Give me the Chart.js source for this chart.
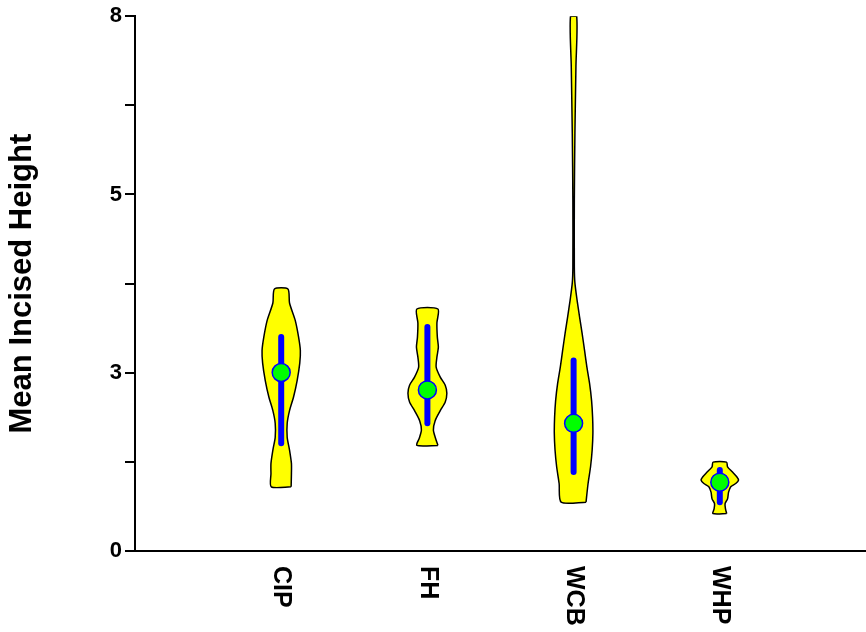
<!DOCTYPE html>
<html>
<head>
<meta charset="utf-8">
<title>Mean Incised Height</title>
<script src="https://cdn.jsdelivr.net/npm/chart.js@4/dist/chart.umd.min.js"></script>
<style>
  html, body { margin: 0; padding: 0; background: #fff; }
  #wrap { width: 866px; height: 632px; }
</style>
</head>
<body>
<div id="wrap"><canvas id="violin" width="866" height="632"></canvas></div>
<script>
// groups, in axis order (x = 1..4)
const categories = ['CIP', 'FH', 'WCB', 'WHP'];

// median (green dot) and the blue interquartile bar
const medians = [2.67, 2.41, 1.91, 1.03];
const q1 = [1.61, 1.91, 1.18, 0.73];
const q3 = [3.20, 3.35, 2.85, 1.21];

// violin outlines: heights from bottom to top, half width (in category units) at each height
const cipLevels = [0.96, 1.16, 1.31, 1.51, 1.70, 1.91, 2.10, 2.30, 2.55, 2.81, 3.00, 3.20, 3.45, 3.71, 3.92];
const cipWidths = [0.068, 0.070, 0.070, 0.057, 0.041, 0.041, 0.057, 0.084, 0.109, 0.127, 0.131, 0.119, 0.096, 0.057, 0.046];

const fhLevels = [1.58, 1.69, 1.81, 1.95, 2.10, 2.23, 2.36, 2.48, 2.60, 2.75, 2.90, 3.05, 3.20, 3.41, 3.62];
const fhWidths = [0.072, 0.055, 0.041, 0.053, 0.088, 0.122, 0.133, 0.122, 0.088, 0.060, 0.065, 0.075, 0.068, 0.065, 0.072];

const wcbLevels = [0.73, 1.01, 1.26, 1.51, 1.76, 2.00, 2.25, 2.51, 2.75, 3.00, 3.26, 3.50, 3.75, 4.01, 4.25, 5.25, 6.25, 7.25, 8.00];
const wcbWidths = [0.085, 0.099, 0.116, 0.127, 0.132, 0.130, 0.123, 0.109, 0.091, 0.075, 0.058, 0.041, 0.024, 0.009, 0.005, 0.005, 0.009, 0.016, 0.021];

const whpLevels = [0.56, 0.63, 0.71, 0.78, 0.88, 0.96, 1.01, 1.06, 1.11, 1.18, 1.26, 1.33];
const whpWidths = [0.047, 0.039, 0.036, 0.053, 0.060, 0.075, 0.109, 0.128, 0.116, 0.087, 0.053, 0.046];

// y axis: a tick every 8/3 units, only every other one labelled (rounded)
const yTickValues = [0, 4 / 3, 8 / 3, 4, 16 / 3, 20 / 3, 8];
const yTickLabels = ['0', '', '3', '', '5', '', '8'];

const profiles = [
    [cipLevels, cipWidths],
    [fhLevels, fhWidths],
    [wcbLevels, wcbWidths],
    [whpLevels, whpWidths]
];

const FONT = '"Liberation Sans", Arial, Helvetica, sans-serif';

// closed outline: up the right side, down the left side, back to start
function violinPoints(center, levels, widths) {
    const right = levels.map((y, i) => ({ x: center + widths[i], y }));
    const left = levels.map((y, i) => ({ x: center - widths[i], y })).reverse();
    return [...right, ...left, right[0]];
}

const datasets = [];

profiles.forEach(([levels, widths], i) => {
    datasets.push({
        type: 'line',
        label: categories[i],
        data: violinPoints(i + 1, levels, widths),
        borderColor: '#000000',
        borderWidth: 1.5,
        backgroundColor: '#ffff00',
        fill: 'shape',
        tension: 0.25,
        pointRadius: 0,
        order: 3
    });
});

categories.forEach((name, i) => {
    datasets.push({
        type: 'line',
        label: name + ' IQR',
        data: [{ x: i + 1, y: q1[i] }, { x: i + 1, y: q3[i] }],
        borderColor: '#0000ff',
        borderWidth: 6,
        borderCapStyle: 'round',
        pointRadius: 0,
        fill: false,
        order: 2
    });
});

datasets.push({
    type: 'scatter',
    label: 'Median',
    data: medians.map((m, i) => ({ x: i + 1, y: m })),
    pointRadius: 9,
    backgroundColor: '#00ff00',
    borderColor: '#0000ff',
    borderWidth: 1.5,
    order: 1
});

// category names, rotated to read top to bottom
const xLabelPlugin = {
    id: 'xLabels',
    afterDraw(chart) {
        const { ctx, scales: { x, y } } = chart;
        ctx.save();
        ctx.font = 'bold 25px ' + FONT;
        ctx.fillStyle = '#000000';
        ctx.textAlign = 'left';
        ctx.textBaseline = 'middle';
        categories.forEach((name, i) => {
            ctx.save();
            ctx.translate(x.getPixelForValue(i + 1), y.bottom + 15);
            ctx.rotate(Math.PI / 2);
            ctx.fillText(name, 0, 0);
            ctx.restore();
        });
        ctx.restore();
    }
};

new Chart(document.getElementById('violin').getContext('2d'), {
    type: 'scatter',
    data: { datasets },
    plugins: [xLabelPlugin],
    options: {
        responsive: false,
        animation: false,
        devicePixelRatio: 1,
        layout: { autoPadding: false, padding: { top: 16, right: 0, bottom: 0, left: 0 } },
        plugins: {
            legend: { display: false },
            tooltip: { enabled: false }
        },
        scales: {
            x: {
                type: 'linear',
                min: 0,
                max: 5,
                grid: { display: false },
                border: { display: true, color: '#000000', width: 2 },
                ticks: { display: false },
                afterFit: (axis) => { axis.height = 81; }
            },
            y: {
                type: 'linear',
                min: 0,
                max: 8,
                afterBuildTicks: (axis) => {
                    axis.ticks = yTickValues.map(v => ({ value: v }));
                },
                afterFit: (axis) => { axis.width = 135; },
                grid: {
                    drawOnChartArea: false,
                    drawTicks: true,
                    tickLength: 10,
                    color: '#000000',
                    lineWidth: 2
                },
                border: { display: true, color: '#000000', width: 2 },
                ticks: {
                    autoSkip: false,
                    padding: 3,
                    color: '#000000',
                    font: { family: FONT, size: 22, weight: 'bold' },
                    callback: (value, index) => yTickLabels[index]
                },
                title: {
                    display: true,
                    text: 'Mean Incised Height',
                    color: '#000000',
                    font: { family: FONT, size: 31, weight: 'bold' },
                    padding: { top: 4, bottom: 4 }
                }
            }
        }
    }
});
</script>
</body>
</html>
